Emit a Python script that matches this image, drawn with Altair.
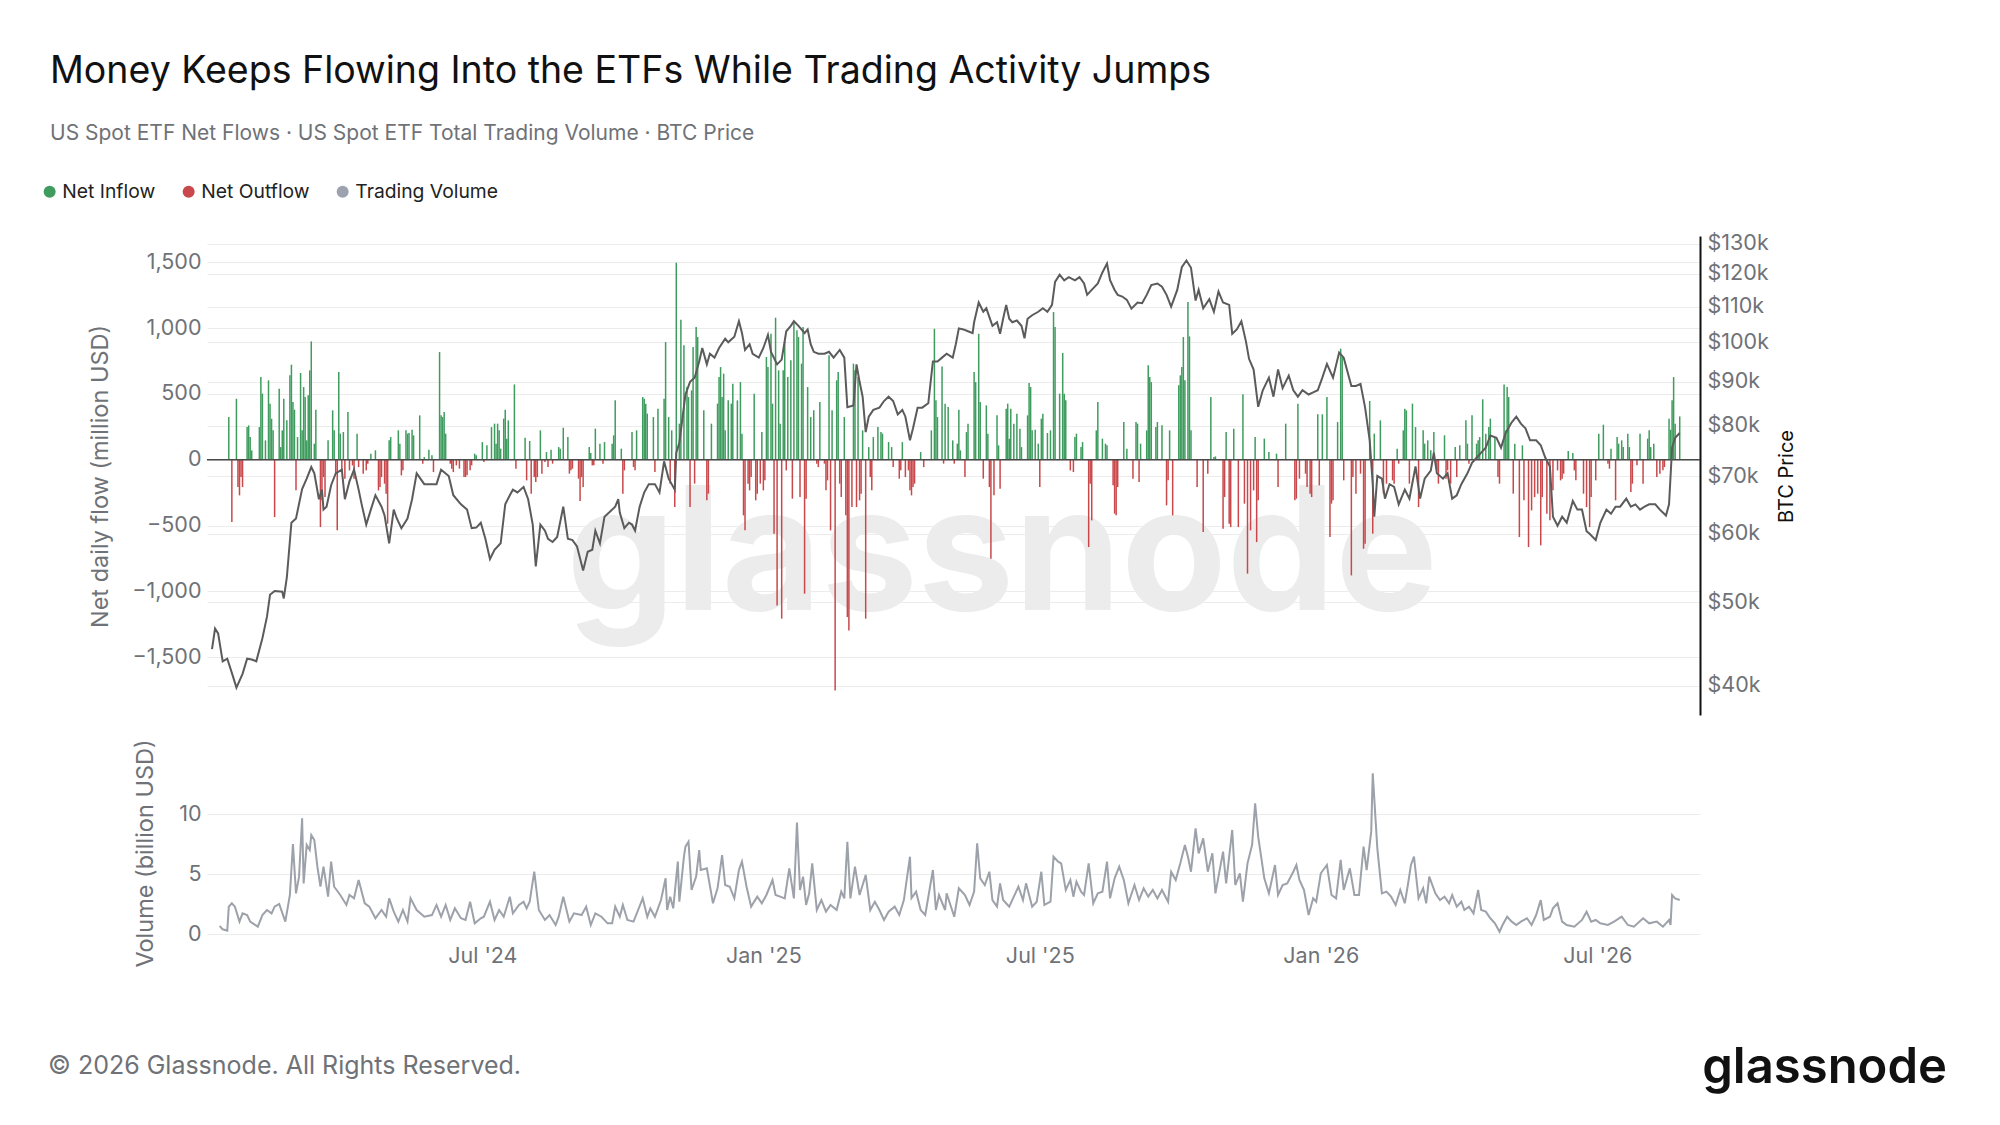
import altair as alt
import pandas as pd

# ---------------- text ----------------
TITLE = "Money Keeps Flowing Into the ETFs While Trading Activity Jumps"
SUBTITLE = "US Spot ETF Net Flows · US Spot ETF Total Trading Volume · BTC Price"
FOOTER = "© 2026 Glassnode. All Rights Reserved."
BRAND = "glassnode"
LEGEND_LABELS = ["Net Inflow", "Net Outflow", "Trading Volume"]
LEGEND_COLORS = ["#3f9c5e", "#c8484b", "#9ca3af"]

# ---------------- axes ----------------
START_DATE = "2024-01-06"
END_DATE = "2026-09-03"
X_TICKS = ["2024-07-01", "2025-01-01", "2025-07-01", "2026-01-01", "2026-07-01"]
FLOW_TICKS = [-1500, -1000, -500, 0, 500, 1000, 1500]
PRICE_TICKS_K = [40, 50, 60, 70, 80, 90, 100, 110, 120, 130]
VOLUME_TICKS = [0, 5, 10]

# ---------------- data: (days after START_DATE, value) ----------------
# Net daily flows, million USD
INFLOWS = [
    (11, 324), (16, 463), (23, 248), (24, 261), (25, 172), (26, 71), (31, 248), (32, 628), (33, 502), (35, 147),
    (37, 603), (38, 426), (39, 312), (40, 223), (44, 540), (45, 96), (46, 223), (47, 463), (49, 299), (51, 641),
    (52, 722), (53, 438), (54, 380), (56, 172), (58, 659), (59, 223), (60, 552), (61, 476), (62, 147), (63, 489),
    (64, 679), (65, 899), (67, 122), (68, 380), (76, 147), (79, 375), (80, 223), (83, 666), (84, 198), (86, 210),
    (89, 362), (95, 198), (104, 46), (107, 71), (116, 147), (117, 172), (122, 223), (123, 122), (127, 223), (128, 198),
    (129, 203), (131, 228), (132, 185), (136, 337), (139, 20), (142, 76), (144, 33), (149, 818), (150, 337), (151, 324),
    (152, 362), (153, 198), (172, 46), (173, 33), (177, 134), (180, 109), (183, 248), (185, 274), (186, 122), (187, 274),
    (188, 223), (189, 84), (191, 312), (192, 380), (193, 160), (194, 299), (198, 572), (205, 167), (208, 142), (215, 223),
    (219, 58), (222, 76), (227, 96), (228, 84), (230, 243), (233, 172), (247, 96), (248, 51), (251, 236), (254, 122),
    (257, 134), (262, 122), (263, 185), (264, 451), (268, 84), (275, 210), (278, 223), (282, 476), (283, 463), (284, 426),
    (285, 350), (289, 324), (292, 388), (296, 463), (297, 894), (299, 324), (301, 223), (304, 1497), (306, 274), (307, 1064),
    (309, 869), (311, 552), (312, 476), (314, 527), (315, 856), (317, 1008), (318, 932), (322, 375), (327, 274), (331, 426),
    (332, 628), (333, 704), (334, 476), (335, 654), (336, 223), (338, 451), (340, 426), (341, 578), (344, 451), (346, 590),
    (347, 198), (355, 502), (360, 210), (363, 780), (364, 704), (366, 957), (367, 426), (369, 1079), (371, 679), (372, 274),
    (374, 679), (375, 907), (377, 628), (379, 755), (381, 1046), (383, 983), (384, 932), (386, 730), (387, 1008), (390, 552),
    (392, 324), (394, 375), (398, 438), (404, 793), (406, 375), (409, 603), (410, 666), (414, 324), (420, 730), (421, 679),
    (423, 628), (426, 223), (430, 96), (433, 172), (436, 248), (438, 210), (439, 198), (443, 134), (445, 96), (452, 134),
    (464, 58), (471, 223), (473, 995), (474, 451), (475, 324), (478, 709), (480, 426), (482, 400), (485, 147), (488, 122),
    (489, 380), (490, 71), (494, 210), (495, 274), (499, 666), (500, 590), (502, 957), (503, 438), (507, 413), (508, 198),
    (514, 337), (515, 109), (520, 388), (521, 426), (522, 160), (523, 388), (525, 274), (527, 350), (529, 236), (530, 96),
    (534, 337), (535, 583), (536, 552), (537, 223), (539, 228), (541, 122), (543, 312), (544, 350), (547, 203), (549, 223),
    (551, 1122), (552, 1008), (555, 502), (557, 811), (558, 502), (559, 451), (565, 172), (566, 198), (569, 96), (570, 134),
    (579, 223), (580, 438), (583, 160), (585, 122), (586, 109), (597, 286), (599, 84), (605, 286), (606, 274), (608, 122),
    (612, 223), (613, 717), (614, 628), (615, 590), (618, 248), (619, 286), (622, 261), (627, 223), (633, 565), (634, 641),
    (635, 704), (636, 932), (637, 603), (639, 1198), (640, 937), (641, 223), (654, 476), (656, 20), (657, 25), (664, 210),
    (669, 236), (675, 497), (683, 172), (689, 160), (692, 58), (697, 46), (703, 274), (711, 426), (724, 345), (727, 345),
    (730, 476), (737, 286), (739, 844), (740, 780), (758, 446), (761, 198), (765, 299), (776, 84), (780, 223), (781, 388),
    (782, 375), (786, 426), (788, 248), (793, 223), (794, 122), (796, 147), (798, 71), (800, 210), (807, 185), (814, 96),
    (817, 109), (821, 299), (822, 122), (825, 337), (828, 122), (829, 147), (830, 172), (832, 459), (834, 198), (836, 248),
    (837, 312), (840, 172), (846, 572), (847, 223), (848, 552), (849, 476), (853, 122), (858, 109), (888, 66), (891, 51),
    (908, 198), (911, 266), (916, 84), (920, 172), (921, 122), (923, 147), (924, 96), (927, 198), (928, 96), (935, 198),
    (940, 160), (941, 223), (942, 96), (944, 122), (954, 312), (955, 228), (956, 451), (957, 628), (958, 274), (961, 329),
]
OUTFLOWS = [
    (13, -474), (17, -208), (18, -271), (19, -132), (20, -208), (41, -436), (55, -233), (71, -512), (72, -309), (73, -132),
    (74, -284), (81, -106), (82, -537), (85, -81), (87, -144), (90, -81), (92, -43), (93, -144), (96, -56), (99, -106),
    (101, -81), (102, -30), (109, -233), (110, -208), (111, -132), (113, -182), (114, -258), (115, -486), (124, -119), (125, -81),
    (138, -30), (145, -94), (156, -30), (157, -68), (158, -94), (160, -43), (162, -68), (165, -132), (166, -132), (167, -119),
    (169, -81), (170, -43), (178, -18), (199, -68), (206, -157), (209, -258), (211, -132), (212, -170), (213, -132), (216, -106),
    (218, -18), (220, -56), (223, -30), (234, -106), (235, -81), (236, -68), (240, -144), (241, -314), (242, -132), (243, -208),
    (249, -43), (250, -43), (256, -30), (269, -258), (270, -81), (276, -56), (277, -81), (290, -94), (300, -182), (303, -360),
    (313, -360), (316, -182), (324, -309), (325, -258), (348, -423), (349, -537), (351, -182), (352, -233), (353, -132), (356, -309),
    (357, -258), (359, -182), (361, -233), (362, -157), (368, -562), (370, -1107), (373, -1208), (376, -81), (380, -296), (385, -284),
    (388, -1018), (389, -296), (396, -30), (397, -56), (401, -30), (402, -233), (403, -157), (405, -537), (408, -1753), (411, -182),
    (412, -284), (415, -423), (416, -1196), (417, -1297), (419, -360), (422, -360), (424, -309), (425, -258), (428, -1208), (431, -132),
    (432, -233), (446, -56), (450, -144), (451, -81), (454, -132), (456, -81), (457, -233), (458, -271), (459, -208), (460, -182),
    (466, -56), (479, -30), (486, -30), (493, -132), (505, -144), (509, -208), (510, -752), (512, -271), (516, -220), (542, -208),
    (562, -81), (564, -94), (574, -664), (575, -182), (576, -461), (590, -195), (591, -410), (592, -423), (593, -208), (603, -144),
    (607, -170), (625, -347), (626, -157), (629, -423), (645, -208), (649, -550), (652, -106), (662, -524), (663, -284), (666, -486),
    (667, -512), (672, -512), (676, -334), (678, -866), (680, -537), (682, -233), (684, -626), (685, -309), (698, -208), (709, -309),
    (710, -296), (712, -144), (716, -106), (717, -208), (719, -258), (720, -284), (725, -195), (732, -588), (733, -334), (734, -309),
    (741, -157), (746, -879), (747, -132), (749, -258), (752, -106), (754, -676), (755, -638), (760, -562), (767, -258), (769, -182),
    (773, -157), (774, -182), (777, -30), (784, -182), (790, -360), (802, -81), (803, -182), (808, -144), (809, -81), (811, -182),
    (815, -132), (823, -30), (842, -132), (843, -182), (852, -258), (856, -588), (859, -309), (862, -664), (864, -385), (866, -284),
    (868, -258), (870, -651), (871, -284), (874, -410), (876, -461), (878, -233), (881, -81), (883, -157), (884, -144), (885, -106),
    (892, -81), (893, -157), (898, -258), (900, -360), (902, -512), (903, -284), (906, -157), (914, -30), (915, -68), (919, -309),
    (929, -246), (930, -182), (933, -43), (937, -182), (946, -132), (948, -106), (950, -81), (951, -56),
]
# BTC price, thousand USD
BTC_PRICE_K = [
    (0, 44.1), (2, 46.6), (4, 46.0), (7, 42.7), (10, 43.0), (13, 41.4), (16, 39.8), (20, 41.3), (23, 43.0), (26, 42.9),
    (29, 42.7), (33, 45.4), (36, 48.1), (38, 51.0), (41, 51.5), (46, 51.4), (47, 50.5), (49, 53.4), (52, 61.8), (55, 62.5),
    (59, 67.6), (62, 69.5), (65, 71.7), (67, 70.5), (70, 65.8), (72, 67.5), (73, 64.0), (75, 64.5), (78, 68.3), (81, 70.5),
    (85, 71.2), (87, 65.8), (90, 69.0), (93, 71.2), (96, 67.5), (98, 64.9), (101, 61.5), (104, 64.0), (107, 66.5), (111, 64.5),
    (113, 63.0), (116, 58.5), (119, 64.0), (121, 62.5), (124, 60.9), (128, 62.5), (131, 65.8), (134, 70.5), (139, 68.5), (143, 68.5),
    (147, 68.5), (150, 71.2), (155, 70.0), (158, 66.5), (163, 64.9), (167, 64.0), (170, 60.9), (173, 61.0), (176, 61.8), (179, 59.2),
    (182, 56.1), (185, 57.5), (189, 58.5), (192, 64.9), (195, 66.5), (197, 67.5), (200, 67.0), (204, 68.0), (207, 65.8), (210, 61.5),
    (212, 55.0), (215, 61.5), (218, 60.5), (220, 59.2), (223, 58.7), (226, 59.5), (230, 64.5), (233, 59.2), (236, 59.0), (239, 58.0),
    (243, 54.4), (246, 57.2), (249, 57.5), (251, 60.5), (254, 58.5), (257, 62.8), (260, 63.5), (264, 64.5), (266, 65.8), (267, 63.5),
    (270, 60.9), (273, 61.8), (275, 61.5), (277, 60.5), (280, 64.5), (283, 67.0), (286, 68.5), (290, 68.5), (293, 67.0), (296, 72.8),
    (299, 69.5), (303, 67.5), (304, 74.5), (306, 76.5), (310, 87.0), (313, 90.0), (316, 91.0), (319, 95.0), (321, 98.5), (324, 94.3),
    (326, 97.0), (329, 96.0), (332, 98.5), (336, 101.0), (338, 100.0), (342, 101.5), (345, 105.8), (347, 102.5), (349, 98.0), (352, 99.5),
    (354, 97.0), (358, 96.0), (361, 98.5), (364, 102.0), (366, 97.5), (370, 94.3), (373, 95.5), (376, 103.0), (379, 104.5), (381, 105.8),
    (384, 104.5), (388, 102.5), (390, 103.5), (392, 99.5), (394, 97.5), (397, 97.0), (401, 97.0), (404, 97.5), (407, 96.0), (411, 98.0),
    (414, 96.0), (416, 84.1), (420, 84.5), (422, 94.3), (424, 90.0), (426, 86.5), (428, 78.7), (430, 82.0), (433, 83.5), (437, 84.0),
    (440, 85.5), (443, 86.5), (446, 85.5), (449, 82.5), (452, 83.5), (454, 82.0), (457, 77.0), (459, 79.5), (462, 84.0), (465, 84.0),
    (469, 85.0), (472, 95.0), (475, 95.0), (478, 96.0), (481, 97.0), (485, 96.0), (487, 99.5), (489, 103.8), (492, 103.5), (495, 103.0),
    (498, 102.5), (499, 105.5), (502, 111.2), (505, 108.5), (507, 109.5), (511, 104.5), (514, 105.5), (516, 102.3), (518, 106.5), (520, 110.5),
    (522, 106.5), (524, 105.5), (527, 106.0), (530, 104.5), (532, 101.1), (534, 106.5), (537, 107.5), (541, 108.5), (544, 109.5), (547, 108.5),
    (550, 110.5), (552, 117.5), (555, 119.8), (558, 118.0), (561, 119.0), (565, 118.0), (568, 119.0), (571, 117.0), (573, 113.5), (576, 115.0),
    (580, 117.0), (583, 120.5), (586, 123.4), (588, 118.0), (591, 115.0), (593, 113.5), (596, 113.0), (599, 112.0), (602, 109.4), (606, 111.2),
    (609, 111.0), (612, 113.5), (615, 116.5), (619, 117.0), (622, 116.0), (625, 113.5), (628, 110.0), (632, 115.0), (635, 122.2), (638, 124.4),
    (641, 122.0), (644, 111.8), (646, 115.0), (649, 109.5), (653, 112.2), (656, 108.5), (659, 114.5), (662, 111.2), (666, 110.5), (668, 102.3),
    (671, 103.5), (674, 105.8), (677, 100.2), (679, 95.7), (682, 93.0), (685, 84.2), (688, 88.0), (692, 91.0), (695, 86.5), (698, 93.0),
    (701, 88.5), (705, 91.5), (708, 88.0), (711, 86.5), (714, 88.0), (718, 87.0), (721, 87.5), (724, 88.0), (727, 91.0), (730, 94.4),
    (734, 91.0), (738, 97.3), (741, 96.0), (746, 89.0), (749, 89.0), (752, 89.5), (755, 84.0), (758, 77.0), (760, 68.5), (761, 62.8),
    (763, 70.0), (766, 69.5), (768, 65.9), (771, 68.5), (774, 68.0), (777, 64.9), (781, 67.5), (784, 65.9), (788, 71.8), (791, 65.9),
    (794, 69.5), (798, 71.0), (800, 74.5), (802, 70.5), (806, 69.5), (809, 70.5), (812, 65.9), (815, 66.5), (818, 68.5), (822, 70.5),
    (825, 72.5), (828, 73.5), (831, 74.5), (834, 75.5), (837, 78.0), (841, 77.5), (844, 75.5), (847, 78.5), (851, 80.8), (854, 82.0),
    (857, 80.5), (860, 79.5), (863, 77.0), (867, 77.0), (870, 76.0), (873, 73.5), (876, 71.8), (878, 62.8), (881, 61.3), (884, 62.8),
    (887, 61.8), (891, 65.5), (894, 64.0), (897, 64.0), (900, 60.4), (902, 60.0), (906, 59.0), (909, 61.8), (913, 64.0), (916, 63.3),
    (919, 64.5), (922, 64.5), (926, 65.9), (929, 64.5), (932, 64.9), (935, 64.0), (938, 64.5), (941, 64.9), (945, 64.9), (948, 64.0),
    (952, 63.0), (954, 64.9), (956, 75.5), (958, 77.5), (961, 78.5),
]
# Total trading volume, billion USD
VOLUME_BN = [
    (5, 0.67), (7, 0.39), (10, 0.28), (11, 2.28), (13, 2.56), (15, 2.28), (18, 1.03), (20, 1.72), (23, 1.58), (25, 1.03),
    (30, 0.61), (33, 1.58), (36, 2.0), (39, 1.72), (41, 2.28), (44, 2.5), (48, 1.03), (51, 3.25), (53, 7.5), (55, 3.39),
    (57, 4.78), (59, 9.64), (60, 4.22), (62, 7.42), (64, 7.0), (65, 8.25), (67, 7.83), (69, 5.61), (71, 3.94), (73, 5.61),
    (76, 3.11), (78, 6.03), (80, 3.94), (84, 3.25), (88, 2.42), (90, 3.25), (93, 2.97), (96, 4.5), (100, 2.56), (103, 2.28),
    (107, 1.31), (111, 2.0), (114, 1.44), (116, 2.97), (119, 1.86), (122, 1.03), (125, 2.0), (128, 1.03), (130, 2.97), (134, 2.0),
    (139, 1.44), (144, 1.58), (147, 2.42), (150, 1.44), (153, 2.42), (156, 1.17), (159, 2.14), (163, 1.31), (166, 1.17), (169, 2.69),
    (172, 0.89), (176, 1.31), (178, 1.44), (182, 2.69), (185, 1.17), (188, 2.0), (191, 1.44), (195, 3.11), (197, 1.72), (201, 2.42),
    (204, 2.69), (206, 2.14), (208, 2.69), (211, 5.19), (214, 2.0), (218, 1.17), (221, 1.58), (225, 0.75), (227, 1.44), (230, 3.11),
    (234, 1.03), (237, 1.72), (242, 1.58), (245, 2.28), (248, 0.75), (251, 1.72), (255, 1.44), (259, 0.89), (262, 0.89), (264, 2.28),
    (267, 1.44), (269, 2.42), (272, 1.17), (276, 1.03), (279, 2.0), (282, 2.97), (285, 1.44), (287, 2.14), (290, 1.44), (294, 2.83),
    (297, 4.64), (298, 2.0), (300, 3.11), (302, 2.14), (305, 6.03), (306, 2.69), (309, 6.44), (310, 7.28), (312, 7.69), (314, 3.67),
    (317, 4.78), (319, 7.0), (320, 5.33), (324, 5.47), (328, 2.56), (331, 3.81), (334, 6.58), (336, 4.08), (339, 3.94), (342, 2.97),
    (345, 5.33), (347, 6.03), (350, 3.94), (353, 2.28), (357, 3.11), (360, 2.56), (363, 3.25), (367, 4.5), (369, 3.25), (372, 3.11),
    (375, 2.97), (378, 5.47), (381, 2.97), (383, 9.28), (385, 3.67), (387, 4.78), (389, 2.42), (391, 3.39), (393, 5.89), (396, 2.0),
    (399, 2.83), (402, 1.86), (405, 2.42), (409, 2.0), (412, 3.53), (414, 2.97), (416, 7.69), (418, 2.97), (421, 5.61), (424, 3.25),
    (428, 4.92), (431, 2.0), (434, 2.69), (437, 2.0), (440, 1.17), (443, 1.86), (447, 2.28), (450, 1.58), (453, 2.83), (457, 6.44),
    (458, 3.0), (461, 3.53), (464, 2.0), (467, 1.58), (472, 5.33), (474, 2.0), (476, 3.25), (480, 2.0), (481, 3.39), (486, 1.44),
    (489, 3.81), (493, 3.25), (496, 2.42), (499, 3.53), (501, 7.56), (503, 4.64), (506, 4.08), (509, 5.19), (511, 2.83), (514, 2.28),
    (516, 4.22), (518, 2.83), (522, 2.28), (525, 3.11), (528, 3.94), (531, 2.83), (533, 4.22), (537, 2.28), (540, 2.69), (543, 5.19),
    (545, 2.42), (549, 2.69), (551, 6.44), (554, 6.03), (556, 5.89), (559, 3.67), (562, 4.5), (564, 3.11), (566, 4.36), (569, 3.53),
    (571, 3.25), (574, 5.89), (577, 2.56), (580, 3.39), (583, 3.53), (586, 6.03), (588, 2.97), (591, 4.64), (594, 5.61), (597, 4.5),
    (600, 2.56), (604, 4.08), (607, 2.83), (610, 3.81), (613, 3.11), (616, 3.67), (619, 2.97), (622, 3.67), (626, 2.69), (628, 5.19),
    (631, 4.5), (634, 5.89), (637, 7.42), (639, 6.44), (641, 5.19), (644, 8.81), (646, 6.72), (649, 7.97), (652, 5.19), (655, 6.72),
    (657, 3.39), (662, 6.86), (664, 4.22), (668, 8.67), (670, 4.08), (673, 5.06), (675, 2.69), (678, 5.89), (681, 7.42), (683, 10.89),
    (685, 8.11), (689, 4.64), (692, 3.39), (696, 5.75), (698, 3.25), (701, 4.08), (704, 4.22), (708, 5.19), (710, 5.75), (712, 4.5),
    (715, 3.67), (718, 1.58), (721, 2.97), (723, 2.69), (726, 5.06), (730, 5.75), (733, 3.25), (736, 2.97), (739, 6.17), (741, 3.67),
    (745, 5.47), (748, 3.25), (751, 3.25), (754, 7.28), (756, 5.33), (759, 8.53), (760, 13.39), (763, 7.14), (766, 3.39), (769, 3.53),
    (772, 3.11), (775, 2.42), (778, 3.67), (781, 2.56), (783, 4.08), (785, 5.75), (787, 6.44), (790, 2.97), (793, 3.81), (795, 2.56),
    (797, 4.78), (801, 3.39), (804, 2.83), (807, 3.11), (810, 2.56), (812, 3.25), (815, 2.28), (818, 2.69), (820, 2.0), (823, 2.28),
    (826, 1.72), (829, 3.67), (831, 2.0), (834, 1.86), (837, 1.31), (840, 0.89), (843, 0.19), (845, 0.75), (848, 1.44), (851, 1.03),
    (854, 0.75), (857, 1.03), (861, 1.31), (864, 0.75), (867, 1.58), (870, 2.83), (872, 1.17), (876, 1.44), (878, 2.14), (881, 2.56),
    (884, 1.03), (887, 0.75), (892, 0.61), (897, 1.17), (900, 1.86), (903, 1.03), (906, 1.17), (909, 0.89), (914, 0.75), (918, 1.03),
    (923, 1.44), (927, 0.75), (931, 0.61), (937, 1.31), (941, 0.89), (946, 1.03), (950, 0.61), (954, 1.17), (955, 0.75), (956, 3.25),
    (958, 2.97), (961, 2.83),
]

# ---------------- tables ----------------
start = pd.Timestamp(START_DATE)


def frame(pairs, name):
    return pd.DataFrame({
        "date": [start + pd.Timedelta(days=d) for d, _ in pairs],
        name: [v for _, v in pairs],
    })


flows_df = pd.concat([
    frame(INFLOWS, "flow").assign(kind=LEGEND_LABELS[0]),
    frame(OUTFLOWS, "flow").assign(kind=LEGEND_LABELS[1]),
], ignore_index=True)
price_df = frame(BTC_PRICE_K, "price")
volume_df = frame(VOLUME_BN, "volume")


def dt(s):
    t = pd.Timestamp(s)
    return alt.DateTime(year=t.year, month=t.month, date=t.day)


# ---------------- layout ----------------
W, H = 1493, 698
MAIN_RANGE = [479, 0]
VOL_RANGE = [698, 536]
GRAY = "#6f7277"
GRID = "#ececec"
FONT = "Inter"
LABEL_SIZE = 21.5
AXIS_TITLE_SIZE = 23.5

x_enc = alt.X(
    "date:T",
    scale=alt.Scale(domain=[dt(START_DATE), dt(END_DATE)]),
    axis=alt.Axis(values=[dt(t) for t in X_TICKS], format="%b '%y", labelFontSize=LABEL_SIZE,
                  labelColor=GRAY, domain=False, ticks=False, grid=False, labelPadding=11,
                  labelFlush=False),
    title=None,
)

flow_scale = alt.Scale(domain=[-1940, 1700], range=MAIN_RANGE, nice=False, zero=False)

watermark = alt.Chart(pd.DataFrame({"t": [BRAND]})).mark_text(
    font=FONT, fontSize=172, fontWeight="bold", color="#ececec", align="center", baseline="alphabetic"
).encode(text="t:N", x=alt.value(795), y=alt.value(374))

bars = alt.Chart(flows_df).mark_bar(width=1.5).encode(
    x=x_enc,
    y=alt.Y("flow:Q", scale=flow_scale,
            axis=alt.Axis(orient="left", values=FLOW_TICKS, format=",.0f", grid=True, gridColor=GRID,
                          domain=False, ticks=False, labelFontSize=LABEL_SIZE, labelColor=GRAY, labelPadding=6,
                          title="Net daily flow (million USD)", titleFontSize=AXIS_TITLE_SIZE,
                          titleFontWeight="normal", titleColor=GRAY, titleX=-107, titleY=240, titleAngle=270,
                          titleAlign="center", titleBaseline="middle")),
    y2=alt.datum(0),
    color=alt.Color("kind:N", scale=alt.Scale(domain=LEGEND_LABELS, range=LEGEND_COLORS),
                    legend=alt.Legend(title=None, orient="none", legendX=-167, legendY=-54,
                                      direction="horizontal", symbolType="circle", symbolSize=144,
                                      labelFontSize=19.3, labelColor="#222222", labelOffset=3,
                                      columnPadding=23, padding=0, labelFont=FONT)),
)

zero_line = alt.Chart(pd.DataFrame({"z": [0]})).mark_rule(color="#4a4a4a", strokeWidth=1.5).encode(
    y=alt.Y("z:Q", scale=flow_scale, axis=None)
)

price_line = alt.Chart(price_df).mark_line(color="#5b5b5b", strokeWidth=2).encode(
    x=x_enc,
    y=alt.Y("price:Q",
            scale=alt.Scale(type="log", domain=[37, 132.8], range=MAIN_RANGE, nice=False),
            axis=alt.Axis(orient="right", values=PRICE_TICKS_K, labelExpr="'$' + datum.value + 'k'",
                          grid=True, gridColor=GRID, domain=True, domainColor="#111111", domainWidth=2,
                          ticks=False, labelFontSize=LABEL_SIZE, labelColor=GRAY, labelPadding=7,
                          title="BTC Price", titleFontSize=20, titleFontWeight="normal", titleColor="#111111",
                          titleAngle=270, titleX=86, titleY=240, titleAlign="center", titleBaseline="middle")),
)

volume_line = alt.Chart(volume_df).mark_line(color="#9ca1aa", strokeWidth=2).encode(
    x=x_enc,
    y=alt.Y("volume:Q", scale=alt.Scale(domain=[0, 13.5], range=VOL_RANGE, nice=False),
            axis=alt.Axis(orient="left", values=VOLUME_TICKS, grid=True, gridColor=GRID, domain=False,
                          ticks=False, labelFontSize=LABEL_SIZE, labelColor=GRAY, labelPadding=6,
                          title="Volume (billion USD)", titleFontSize=AXIS_TITLE_SIZE, titleFontWeight="normal",
                          titleColor=GRAY, titleX=-62, titleY=617, titleAngle=270,
                          titleAlign="center", titleBaseline="middle")),
)

footer = alt.Chart(pd.DataFrame({"t": [FOOTER]})).mark_text(
    font=FONT, fontSize=25, color=GRAY, align="left", baseline="alphabetic"
).encode(text="t:N", x=alt.value(-159), y=alt.value(838))

logo = alt.Chart(pd.DataFrame({"t": [BRAND]})).mark_text(
    font=FONT, fontSize=49, fontWeight=600, color="#111111", align="right", baseline="alphabetic"
).encode(text="t:N", x=alt.value(1740), y=alt.value(847))

chart = alt.layer(
    watermark, bars, zero_line, price_line, volume_line, footer, logo
).resolve_scale(y="independent").properties(
    width=W,
    height=H,
    autosize=alt.AutoSizeParams(type="none"),
    padding={"left": 199, "top": 228, "right": 292, "bottom": 183},
    title=alt.TitleParams(
        text=TITLE, subtitle=SUBTITLE, anchor="start", frame="group", dx=-157,
        font=FONT, fontSize=37.5, fontWeight="normal", color="#111111",
        subtitleFont=FONT, subtitleFontSize=21, subtitleColor=GRAY, subtitlePadding=33, offset=38,
    ),
).configure(font=FONT, background="white").configure_view(stroke=None)

chart.save("out.html", embed_options={"renderer": "svg", "actions": False})
